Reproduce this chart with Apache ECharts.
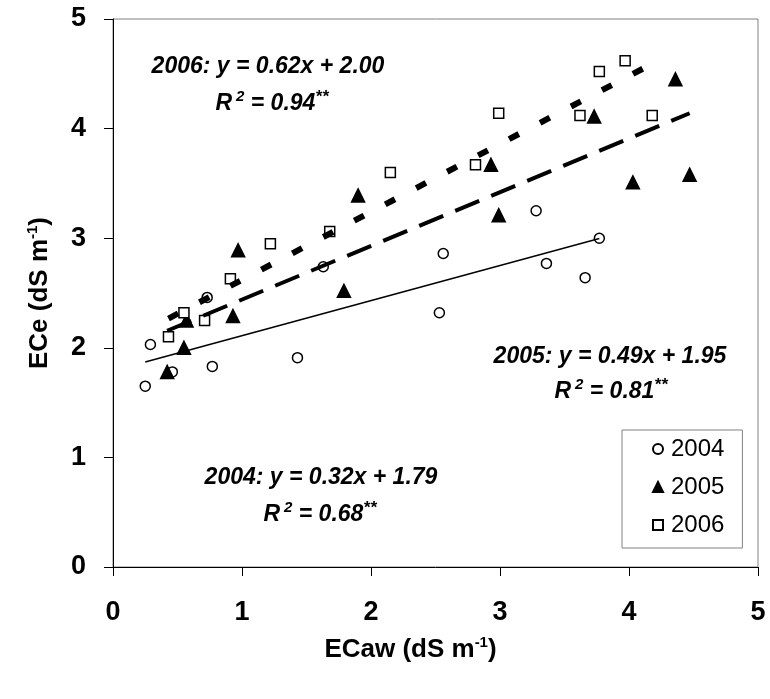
<!DOCTYPE html>
<html>
<head>
<meta charset="utf-8">
<title>ECe vs ECaw</title>
<script src="https://cdn.jsdelivr.net/npm/echarts@6/dist/echarts.min.js"></script>
<style>
  html, body { margin: 0; padding: 0; background: #fff; }
  #ecChart { width: 770px; height: 699px; }
</style>
</head>
<body>
<div id="ecChart"></div>
<script>
// 数据
const years = ["2004", "2005", "2006"];

const x2004 = [0.25, 0.29, 0.46, 0.73, 0.77, 1.43, 1.63, 2.53, 2.56, 3.28, 3.36, 3.66, 3.77];
const y2004 = [1.65, 2.03, 1.78, 2.46, 1.83, 1.91, 2.74, 2.32, 2.86, 3.25, 2.77, 2.64, 3.00];

const x2005 = [0.42, 0.55, 0.57, 0.93, 0.97, 1.79, 1.90, 2.93, 2.99, 3.73, 4.03, 4.36, 4.47];
const y2005 = [1.78, 2.00, 2.25, 2.29, 2.89, 2.52, 3.39, 3.67, 3.21, 4.11, 3.51, 4.45, 3.58];

const x2006 = [0.43, 0.55, 0.71, 0.91, 1.22, 1.68, 2.15, 2.81, 2.99, 3.62, 3.77, 3.97, 4.18];
const y2006 = [2.10, 2.32, 2.25, 2.63, 2.95, 3.06, 3.60, 3.67, 4.14, 4.12, 4.52, 4.62, 4.12];

// 回归方程
const slopes = [0.32, 0.49, 0.62];
const intercepts = [1.79, 1.95, 2.00];
const r2Labels = ["0.68", "0.81", "0.94"];

const xTicks = [0, 1, 2, 3, 4, 5];
const yTicks = [0, 1, 2, 3, 4, 5];

const FONT = "'Liberation Sans', Arial, sans-serif";

function zip(xs, ys) {
  return xs.map((v, i) => [v, ys[i]]);
}

function trend(xs, k) {
  let lo = Math.min.apply(null, xs);
  let hi = Math.max.apply(null, xs);
  return [[lo, slopes[k] * lo + intercepts[k]], [hi, slopes[k] * hi + intercepts[k]]];
}

const pointSets = [zip(x2004, y2004), zip(x2005, y2005), zip(x2006, y2006)];
const xSets = [x2004, x2005, x2006];

const markerStyle = [
  { symbol: "circle", size: 10, color: "#fff" },
  { symbol: "triangle", size: 13, color: "#000" },
  { symbol: "rect", size: 10, color: "#fff" }
];
const lineStyles = [
  { type: "solid", width: 1.5 },
  { type: [26, 13], width: 4 },
  { type: [11, 24], width: 6 }
];

let series = [];
years.forEach((name, k) => {
  series.push({
    name: name,
    type: "scatter",
    data: pointSets[k],
    symbol: markerStyle[k].symbol,
    symbolSize: markerStyle[k].size,
    itemStyle: {
      color: markerStyle[k].color,
      borderColor: "#000",
      borderWidth: 1.5,
      opacity: 1
    },
    z: 3
  });
});
years.forEach((name, k) => {
  series.push({
    name: name + " fit",
    type: "line",
    data: trend(xSets[k], k),
    showSymbol: false,
    symbol: "none",
    lineStyle: {
      color: "#000",
      width: lineStyles[k].width,
      type: lineStyles[k].type,
      cap: "butt"
    },
    silent: true,
    z: 4
  });
});

function eqText(k) {
  let s = slopes[k].toFixed(2), b = intercepts[k].toFixed(2);
  return years[k] + ": y = " + s + "x + " + b;
}

const eqRich = {
  b: { fontFamily: FONT, fontSize: 23, fontWeight: "bold", fontStyle: "italic", color: "#000", lineHeight: 30 },
  g: { fontFamily: FONT, fontSize: 23, color: "#000", lineHeight: 30, width: 4 },
  s: { fontFamily: FONT, fontSize: 15, fontWeight: "bold", fontStyle: "italic", color: "#000", verticalAlign: "top", lineHeight: 15 },
  t: { fontFamily: FONT, fontSize: 17, fontWeight: "bold", fontStyle: "italic", color: "#000", verticalAlign: "top", lineHeight: 19 }
};

// 方程文字中心位置
const eqPos = [[321, 478, 320, 515], [610, 357, 611, 392], [268, 67, 272, 104]];

let graphics = [];
eqPos.forEach((p, k) => {
  graphics.push({
    type: "text", x: p[0], y: p[1], z: 10,
    style: {
      text: "{b|" + eqText(k) + "}",
      rich: eqRich, align: "center", verticalAlign: "middle"
    }
  });
  graphics.push({
    type: "text", x: p[2], y: p[3], z: 10,
    style: {
      text: "{b|R}{g| }{s|2}{b| = " + r2Labels[k] + "}{t|**}",
      rich: eqRich, align: "center", verticalAlign: "middle"
    }
  });
});

const nameRich = {
  a: { fontFamily: FONT, fontSize: 26, fontWeight: "bold", color: "#000", lineHeight: 30 },
  s: { fontFamily: FONT, fontSize: 15, fontWeight: "bold", color: "#000", verticalAlign: "top", lineHeight: 15 }
};

let option = {
  backgroundColor: "#fff",
  animation: false,
  grid: {
    left: 113, right: 12, top: 19, bottom: 132,
    show: true, borderColor: "#808080", borderWidth: 1
  },
  legend: {
    data: years,
    orient: "vertical",
    left: 622, top: 430,
    backgroundColor: "#fff",
    borderColor: "#808080",
    borderWidth: 1,
    borderRadius: 0,
    padding: [7, 18, 11, 30],
    itemGap: 14,
    itemWidth: 10,
    itemHeight: 10,
    textStyle: { fontFamily: FONT, fontSize: 24, color: "#000", padding: [0, 0, 0, 3] }
  },
  xAxis: {
    type: "value",
    min: xTicks[0], max: xTicks[xTicks.length - 1], interval: 1,
    name: "{a|ECaw (dS m}{s|-1}{a|)}",
    nameLocation: "middle",
    nameGap: 68,
    nameTextStyle: { rich: nameRich, padding: [0, 50, 0, 0] },
    axisLine: { show: true, lineStyle: { color: "#000", width: 1 } },
    axisTick: { show: true, inside: false, length: 9, lineStyle: { color: "#000" } },
    axisLabel: { fontFamily: FONT, fontSize: 27, fontWeight: "bold", color: "#000", margin: 32 },
    splitLine: { show: false }
  },
  yAxis: {
    type: "value",
    min: yTicks[0], max: yTicks[yTicks.length - 1], interval: 1,
    name: "{a|ECe (dS m}{s|-1}{a|)}",
    nameLocation: "middle",
    nameGap: 58,
    nameTextStyle: { rich: nameRich },
    axisLine: { show: true, lineStyle: { color: "#000", width: 1 } },
    axisTick: { show: true, inside: false, length: 9, lineStyle: { color: "#000" } },
    axisLabel: { fontFamily: FONT, fontSize: 27, fontWeight: "bold", color: "#000", margin: 27 },
    splitLine: { show: false }
  },
  graphic: graphics,
  series: series
};

let chart = echarts.init(document.getElementById("ecChart"), null, { renderer: "canvas" });
chart.setOption(option);
</script>
</body>
</html>
